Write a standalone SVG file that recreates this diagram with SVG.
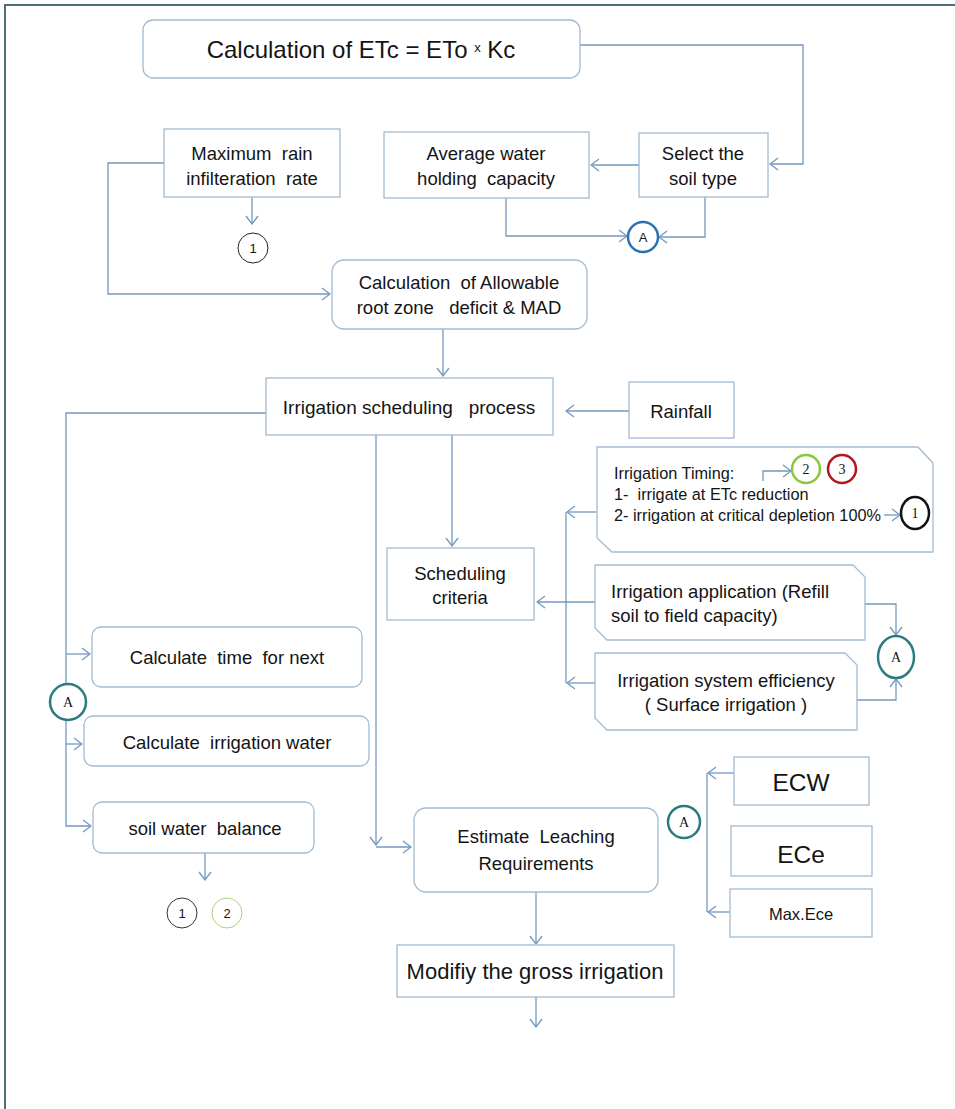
<svg xmlns="http://www.w3.org/2000/svg" width="955" height="1109" viewBox="0 0 955 1109">
<style>
.box{fill:#fff;stroke:#a3bbd2;stroke-width:1.3}
.t{font-family:"Liberation Sans",Arial,sans-serif;fill:#141414;font-size:18.5px;text-anchor:middle;white-space:pre}
.tl{text-anchor:start}
.c{fill:none;stroke:#7398bf;stroke-width:1.3}
.ca{fill:none;stroke:#7398bf;stroke-width:1.3;marker-end:url(#ah)}
.ser{font-family:"Liberation Serif","Times New Roman",serif;fill:#141414;text-anchor:middle}
.san{font-family:"Liberation Sans",Arial,sans-serif;fill:#141414;text-anchor:middle}
</style>
<defs>
<marker id="ah" viewBox="0 0 10 14" refX="9" refY="7" markerWidth="10" markerHeight="14" orient="auto" markerUnits="userSpaceOnUse">
<path d="M1,1 L9,7 L1,13" fill="none" stroke="#7398bf" stroke-width="1.3"/>
</marker>
</defs>
<rect width="955" height="1109" fill="#fff"/>
<g id="frame" fill="none" stroke="#4e6f7e" stroke-width="2">
<path d="M5,1109 V5 H955"/>
</g>
<g id="connectors">
<path class="ca" d="M580,45 H803 V164 H770"/>
<path class="ca" d="M639,165 H591"/>
<path class="ca" d="M506,198 V236 H627"/>
<path class="ca" d="M705,197 V237 H659"/>
<path class="ca" d="M164,163 H108 V294 H330"/>
<path class="ca" d="M252,197 V224"/>
<path class="ca" d="M443,329 V376"/>
<path class="ca" d="M629,411 H566"/>
<path class="ca" d="M266,413 H66 V826 H91"/>
<path class="ca" d="M66,654 H90"/>
<path class="ca" d="M66,744 H82"/>
<path class="ca" d="M376,435 V845"/>
<path class="ca" d="M376,847 H411"/>
<path class="ca" d="M452,435 V546"/>
<path class="ca" d="M597,512 H567"/>
<path class="c" d="M566,512 V683"/>
<path class="ca" d="M597,683 H567"/>
<path class="ca" d="M595,602 H537"/>
<path class="ca" d="M865,604 H896 V635"/>
<path class="ca" d="M857,700 H896 V679"/>
<path class="ca" d="M763,481 V471 H791"/>
<path class="ca" d="M884,515 H900"/>
<path class="ca" d="M205,853 V880"/>
<path class="ca" d="M734,773 H708"/>
<path class="c" d="M707,773 V912"/>
<path class="ca" d="M730,912 H708"/>
<path class="ca" d="M536,892 V944"/>
<path class="ca" d="M536,997 V1027"/>
</g>
<g id="n-etc">
<rect class="box" x="143" y="20" width="437" height="58" rx="10"/>
<text class="t" x="361" y="58" style="font-size:24px">Calculation of ETc = ETo <tspan style="font-size:13px" dy="-6">x</tspan><tspan dy="6"> Kc</tspan></text>
</g>
<g id="n-maxrain">
<rect class="box" x="164" y="129" width="176" height="68"/>
<text class="t" x="252" y="159.5">Maximum  rain</text>
<text class="t" x="252" y="184.5">infilteration  rate</text>
</g>
<g id="n-avg">
<rect class="box" x="384" y="132" width="205" height="66"/>
<text class="t" x="486" y="159.5">Average water</text>
<text class="t" x="486" y="184.5">holding  capacity</text>
</g>
<g id="n-select">
<rect class="box" x="639" y="133" width="129" height="64"/>
<text class="t" x="703" y="159.5">Select the</text>
<text class="t" x="703" y="184.5">soil type</text>
</g>
<g id="c-1a">
<circle cx="253" cy="248" r="15" fill="#fff" stroke="#222" stroke-width="1"/>
<text class="san" x="253" y="253" font-size="13">1</text>
</g>
<g id="c-a-blue">
<circle cx="643" cy="237" r="15" fill="#fff" stroke="#2a72b5" stroke-width="2.5"/>
<text class="san" x="643" y="242" font-size="13">A</text>
</g>
<g id="n-allow">
<rect class="box" x="332" y="260" width="255" height="69" rx="12"/>
<text class="t" x="459" y="288.5">Calculation  of Allowable</text>
<text class="t" x="459" y="313.5">root zone   deficit &amp; MAD</text>
</g>
<g id="n-process">
<rect class="box" x="266" y="378" width="287" height="57"/>
<text class="t" x="409" y="413.5" style="font-size:19px">Irrigation scheduling   process</text>
</g>
<g id="n-rain">
<rect class="box" x="629" y="382" width="105" height="56"/>
<text class="t" x="681" y="417.5">Rainfall</text>
</g>
<g id="n-timing">
<polygon class="box" style="fill:none" points="597,447 918,447 933,463 933,552 612,552 597,538"/>
<text class="t tl" x="614" y="479" style="font-size:16.3px">Irrigation Timing:</text>
<text class="t tl" x="614" y="500" style="font-size:16.3px">1-  irrigate at ETc reduction</text>
<text class="t tl" x="614" y="521" style="font-size:16.3px">2- irrigation at critical depletion 100%</text>
</g>
<g id="c-2green">
<circle cx="806" cy="469" r="14" fill="#fff" stroke="#8cc63e" stroke-width="2.5"/>
<text class="ser" x="806" y="474" font-size="14">2</text>
</g>
<g id="c-3red">
<circle cx="842" cy="469" r="14" fill="#fff" stroke="#b3161d" stroke-width="2.5"/>
<text class="ser" x="842" y="474" font-size="14">3</text>
</g>
<g id="c-1black">
<ellipse cx="915" cy="513" rx="14" ry="16" fill="#fff" stroke="#111" stroke-width="2.5"/>
<text class="ser" x="915" y="518" font-size="14">1</text>
</g>
<g id="n-sched">
<rect class="box" x="387" y="548" width="147" height="72"/>
<text class="t" x="460" y="579.5">Scheduling</text>
<text class="t" x="460" y="603.5">criteria</text>
</g>
<g id="n-app">
<polygon class="box" points="595,565 853,565 865,577 865,640 607,640 595,628"/>
<text class="t tl" x="611" y="597.5">Irrigation application (Refill</text>
<text class="t tl" x="611" y="621.5">soil to field capacity)</text>
</g>
<g id="n-eff">
<polygon class="box" points="595,653 845,653 857,665 857,730 607,730 595,718"/>
<text class="t" x="726" y="686.5">Irrigation system efficiency</text>
<text class="t" x="726" y="710.5">( Surface irrigation )</text>
</g>
<g id="c-a-right">
<ellipse cx="896" cy="657" rx="18" ry="21" fill="#fff" stroke="#2c7b7e" stroke-width="2.5"/>
<text class="ser" x="896" y="662" font-size="14">A</text>
</g>
<g id="n-time">
<rect class="box" x="92" y="627" width="270" height="60" rx="9"/>
<text class="t" x="227" y="663.5">Calculate  time  for next</text>
</g>
<g id="n-water">
<rect class="box" x="84" y="716" width="285" height="50" rx="9"/>
<text class="t" x="227" y="748.5">Calculate  irrigation water</text>
</g>
<g id="c-a-left">
<circle cx="68" cy="702" r="18" fill="#fff" stroke="#2c7b7e" stroke-width="2.5"/>
<text class="ser" x="68" y="707" font-size="14">A</text>
</g>
<g id="n-balance">
<rect class="box" x="93" y="802" width="221" height="51" rx="9"/>
<text class="t" x="205" y="834.5">soil water  balance</text>
</g>
<g id="c-1bottom">
<circle cx="182" cy="913" r="15" fill="#fff" stroke="#333" stroke-width="1"/>
<text class="san" x="182" y="918" font-size="13">1</text>
</g>
<g id="c-2bottom">
<circle cx="227" cy="913" r="15" fill="#fff" stroke="#b9cc74" stroke-width="1"/>
<text class="san" x="227" y="918" font-size="13">2</text>
</g>
<g id="n-leach">
<rect class="box" x="414" y="808" width="244" height="84" rx="12"/>
<text class="t" x="536" y="842.5">Estimate  Leaching</text>
<text class="t" x="536" y="869.5">Requirements</text>
</g>
<g id="c-a-leach">
<circle cx="684" cy="822" r="16" fill="#fff" stroke="#2c7b7e" stroke-width="2.5"/>
<text class="ser" x="684" y="827" font-size="14">A</text>
</g>
<g id="n-ecw">
<rect class="box" x="734" y="757" width="135" height="48"/>
<text class="t" x="801" y="791" style="font-size:24.5px">ECW</text>
</g>
<g id="n-ece">
<rect class="box" x="731" y="826" width="141" height="50"/>
<text class="t" x="801" y="863" style="font-size:24.5px">ECe</text>
</g>
<g id="n-maxece">
<rect class="box" x="730" y="889" width="142" height="48"/>
<text class="t" x="801" y="920" style="font-size:16.5px">Max.Ece</text>
</g>
<g id="n-modify">
<rect class="box" x="397" y="945" width="277" height="52"/>
<text class="t" x="535" y="979" style="font-size:22px">Modifiy the gross irrigation</text>
</g>
</svg>
